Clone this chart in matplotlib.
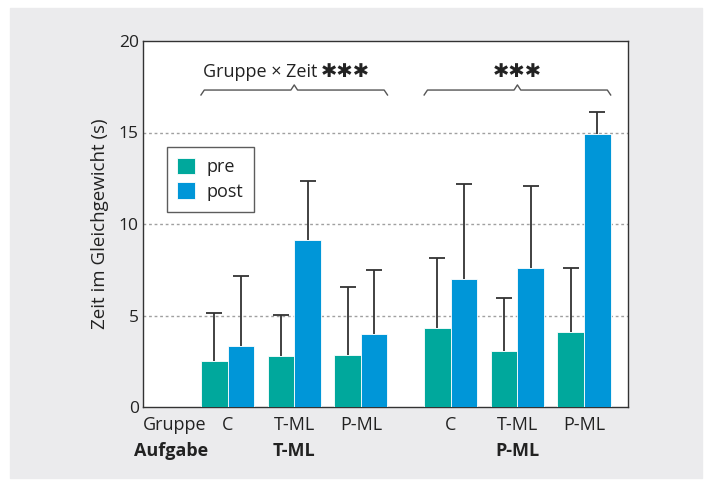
import matplotlib.pyplot as plt
from matplotlib.patches import Rectangle
import matplotlib.transforms as mtransforms
import numpy as np

plt.rcParams['font.family'] = ['Open Sans', 'DejaVu Sans']

# data
gruppen = ['C', 'T-ML', 'P-ML', 'C', 'T-ML', 'P-ML']
aufgaben = ['T-ML', 'P-ML']
pre_mean = [2.5, 2.8, 2.85, 4.3, 3.05, 4.1]
pre_sd = [2.65, 2.25, 3.7, 3.85, 2.9, 3.5]
post_mean = [3.35, 9.15, 4.0, 7.0, 7.6, 14.9]
post_sd = [3.8, 3.2, 3.5, 5.2, 4.5, 1.2]

teal = '#00a89c'
blue = '#0096d8'
dark = '#333333'
txt = '#222222'

pos = np.array([1, 2, 3, 4.35, 5.35, 6.35])
w = 0.4

fig = plt.figure(figsize=(7.12, 4.83), dpi=100)
fig.patches.append(Rectangle((10/712, 1-478/483), 692/712, 470/483,
                             transform=fig.transFigure, color='#ebebed', zorder=-10))
ax = fig.add_axes([143/712, 1-407/483, 485/712, 366/483])
ax.set_facecolor('white')

for yy in [5, 10, 15]:
    ax.axhline(yy, color='#a0a0a0', lw=1, ls=(0, (2, 2)), zorder=1)

# upper error bars only
for xs, m, sd in [(pos - w/2, pre_mean, pre_sd), (pos + w/2, post_mean, post_sd)]:
    eb = ax.errorbar(xs, m, yerr=[np.zeros(6), sd], fmt='none',
                     ecolor=dark, elinewidth=1.3, capsize=6, capthick=1.3, zorder=2)
    eb[1][0].set_visible(False)

ax.bar(pos - w/2, pre_mean, w, color=teal, edgecolor='white', lw=0.6, zorder=3, label='pre')
ax.bar(pos + w/2, post_mean, w, color=blue, edgecolor='white', lw=0.6, zorder=3, label='post')

ax.set_xlim(-0.27, 7.01)
ax.set_ylim(0, 20)
ax.set_yticks([0, 5, 10, 15, 20])
ax.tick_params(axis='y', length=0, pad=3, labelsize=12.5, labelcolor=txt)
ax.set_xticks([])
for s in ax.spines.values():
    s.set_color(dark)
    s.set_linewidth(1)
ax.set_ylabel('Zeit im Gleichgewicht (s)', fontsize=13.5, color=txt, labelpad=7)

# group labels below
tr = mtransforms.blended_transform_factory(ax.transData, ax.transAxes)
ax.text(0.2, -0.05, 'Gruppe', transform=tr, ha='center', va='center', fontsize=13, color=txt)
for p, g in zip(pos, gruppen):
    ax.text(p, -0.05, g, transform=tr, ha='center', va='center', fontsize=13, color=txt)
ax.text(0.15, -0.12, 'Aufgabe', transform=tr, ha='center', va='center', fontsize=13,
        fontweight='bold', color=txt)
ax.text(pos[1], -0.12, aufgaben[0], transform=tr, ha='center', va='center', fontsize=13,
        fontweight='bold', color=txt)
ax.text(pos[4], -0.12, aufgaben[1], transform=tr, ha='center', va='center', fontsize=13,
        fontweight='bold', color=txt)

# braces
def brace(x0, x1):
    m = (x0 + x1) / 2
    d = 0.05
    xs = [x0, x0 + d, m - d, m, m + d, x1 - d, x1]
    ys = [17.05, 17.32, 17.32, 17.6, 17.32, 17.32, 17.05]
    ax.plot(xs, ys, color='#555555', lw=1, zorder=4)
    return m

m1 = brace(pos[0] - w, pos[2] + w)
m2 = brace(pos[3] - w, pos[5] + w)
ax.text(m1 - 0.47, 18.3, 'Gruppe × Zeit ', ha='center', va='center', fontsize=13, color=txt)
ax.text(m1 + 0.77, 18.35, '✱✱✱', ha='center', va='center', fontsize=14,
        family='DejaVu Sans', color=txt)
ax.text(m2, 18.35, '✱✱✱', ha='center', va='center', fontsize=14,
        family='DejaVu Sans', color=txt)

leg = ax.legend(loc='upper left', bbox_to_anchor=(0.03, 0.735), fontsize=13,
                frameon=True, fancybox=False, handlelength=1.0, handleheight=1.0,
                handletextpad=0.6, borderpad=0.6, labelspacing=0.35)
leg.get_frame().set_edgecolor(dark)
leg.get_frame().set_linewidth(1)
for t in leg.get_texts():
    t.set_color(txt)

fig.savefig('out.png', dpi=100)
